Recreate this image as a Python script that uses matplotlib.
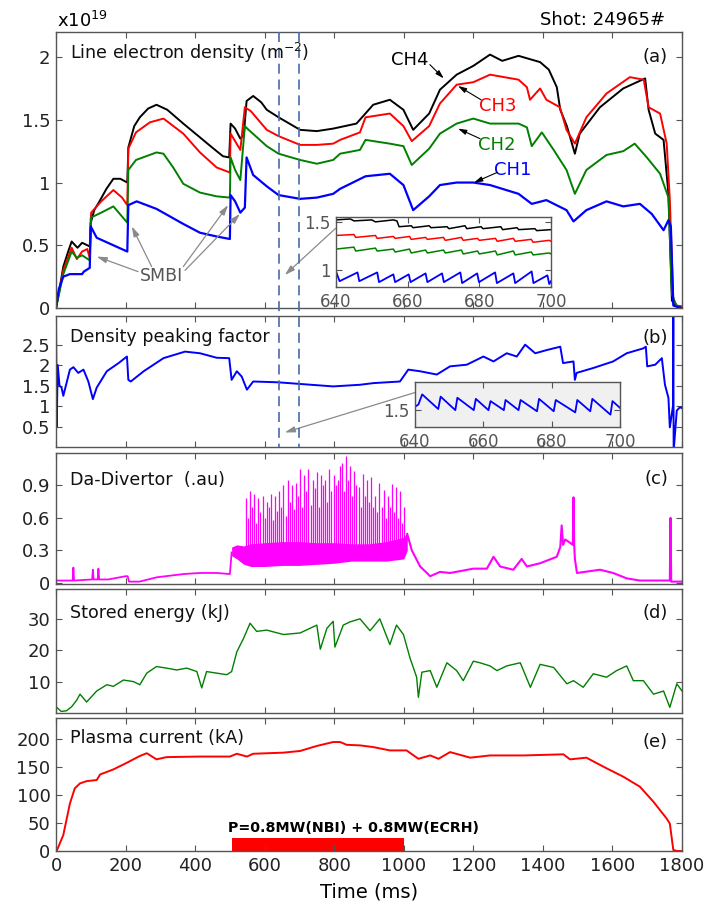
import matplotlib
matplotlib.use("Agg")
import matplotlib.pyplot as plt
from matplotlib.lines import Line2D
from matplotlib.ticker import FuncFormatter
from matplotlib.transforms import blended_transform_factory

plt.rcParams['font.family'] = ['DejaVu Sans']

# ---- data (time in ms) ----
# (a) line electron density, x1e19 m^-2
ch4_t = [0, 10, 21, 35, 45, 55, 62, 75, 90, 97, 100, 110, 125, 145, 165, 185, 205, 208, 225, 241,
         265, 289, 320, 366, 414, 440, 462, 480, 498, 502, 515, 530, 540, 548, 567, 590, 606, 640,
         702, 750, 797, 864, 912, 960, 999, 1027, 1073, 1104, 1152, 1200, 1248, 1283, 1330, 1392,
         1417, 1440, 1450, 1469, 1492, 1506, 1564, 1631, 1694, 1704, 1723, 1747, 1761, 1771, 1780, 1800]
ch4_v = [0, 0.15, 0.33, 0.45, 0.53, 0.5, 0.48, 0.52, 0.5, 0.49, 0.68, 0.78, 0.85, 0.95, 1.03, 1.03, 1.0, 1.28, 1.45, 1.52,
         1.59, 1.62, 1.58, 1.47, 1.36, 1.3, 1.25, 1.21, 1.2, 1.47, 1.43, 1.35, 1.38, 1.65, 1.69, 1.64, 1.58, 1.52,
         1.42, 1.41, 1.43, 1.47, 1.62, 1.66, 1.58, 1.42, 1.55, 1.74, 1.86, 1.93, 2.02, 1.97, 2.01, 1.96,
         1.9, 1.76, 1.58, 1.45, 1.23, 1.39, 1.6, 1.75, 1.83, 1.58, 1.39, 1.34, 0.91, 0.06, 0.02, 0.01]

ch3_t = [0, 21, 45, 60, 75, 90, 97, 101, 130, 165, 190, 205, 208, 230, 270, 309, 366, 414, 462, 500,
         502, 515, 530, 543, 560, 606, 640, 702, 750, 797, 817, 874, 890, 960, 999, 1023, 1073, 1104,
         1152, 1200, 1248, 1330, 1354, 1363, 1392, 1410, 1449, 1468, 1492, 1525, 1583, 1650, 1690,
         1704, 1737, 1756, 1765, 1775, 1785, 1800]
ch3_v = [0, 0.3, 0.48, 0.39, 0.45, 0.47, 0.4, 0.76, 0.85, 0.94, 0.88, 0.82, 1.27, 1.4, 1.48, 1.51, 1.39, 1.24, 1.12, 1.08,
         1.39, 1.33, 1.26, 1.6, 1.57, 1.42, 1.37, 1.3, 1.3, 1.31, 1.34, 1.4, 1.52, 1.55, 1.45, 1.33, 1.45, 1.63,
         1.78, 1.8, 1.86, 1.82, 1.76, 1.66, 1.75, 1.66, 1.6, 1.42, 1.31, 1.52, 1.71, 1.84, 1.82,
         1.6, 1.55, 1.31, 0.86, 0.06, 0.02, 0.01]

ch2_t = [0, 21, 45, 60, 75, 97, 100, 130, 165, 205, 208, 230, 289, 309, 337, 366, 414, 462, 500,
         502, 515, 530, 543, 550, 606, 640, 702, 750, 797, 817, 874, 890, 960, 999, 1023, 1073, 1104,
         1152, 1200, 1248, 1330, 1354, 1368, 1397, 1431, 1468, 1492, 1525, 1583, 1631, 1664, 1699,
         1737, 1761, 1771, 1785, 1800]
ch2_v = [0, 0.27, 0.45, 0.4, 0.42, 0.38, 0.72, 0.76, 0.81, 0.68, 1.1, 1.18, 1.24, 1.23, 1.12, 0.99, 0.92, 0.89, 0.88,
         1.2, 1.1, 1.02, 1.45, 1.43, 1.29, 1.23, 1.18, 1.15, 1.18, 1.23, 1.26, 1.34, 1.31, 1.29, 1.14, 1.27, 1.39,
         1.47, 1.51, 1.47, 1.47, 1.44, 1.29, 1.4, 1.26, 1.1, 0.91, 1.1, 1.22, 1.25, 1.31, 1.2,
         1.07, 0.88, 0.11, 0.01, 0.0]

ch1_t = [0, 8, 21, 40, 75, 80, 97, 100, 117, 165, 205, 208, 232, 289, 366, 414, 462, 500, 502, 515,
         530, 543, 548, 567, 606, 640, 702, 750, 797, 817, 890, 960, 999, 1027, 1073, 1104, 1152, 1200,
         1248, 1330, 1368, 1410, 1468, 1488, 1525, 1583, 1631, 1679, 1713, 1747, 1761, 1768, 1775, 1785, 1800]
ch1_v = [0, 0.15, 0.25, 0.27, 0.27, 0.29, 0.32, 0.65, 0.56, 0.5, 0.45, 0.82, 0.85, 0.79, 0.67, 0.6, 0.57, 0.55, 0.9, 0.85,
         0.76, 0.8, 1.2, 1.06, 0.97, 0.9, 0.87, 0.88, 0.91, 0.95, 1.05, 1.07, 0.98, 0.78, 0.89, 0.98, 1.0, 1.0,
         0.98, 0.91, 0.83, 0.86, 0.78, 0.69, 0.78, 0.85, 0.81, 0.83, 0.75, 0.62, 0.7, 0.65, 0.02, 0.01, 0.0]

# zoom window 640-700 ms
zoom_win = [640, 700]
ins4_t = [640, 644, 645, 650, 651, 656, 657, 657.6, 661, 661.5, 666, 666.5, 671, 671.5, 676, 676.5,
          680.5, 681, 686, 686.5, 690.5, 691, 695.5, 696, 700]
ins4_v = [1.52, 1.53, 1.51, 1.52, 1.50, 1.52, 1.51, 1.45, 1.46, 1.44, 1.46, 1.44, 1.45, 1.43, 1.46, 1.43,
          1.45, 1.43, 1.45, 1.42, 1.44, 1.42, 1.43, 1.41, 1.42]
ins32_t = [640, 645, 645.5, 651, 651.5, 656, 656.5, 660.5, 661, 665, 665.5, 670, 670.5, 675, 675.5,
           679.5, 680, 684.5, 685, 689.5, 690, 694.5, 695, 699.5, 700]
ins3_v = [1.36, 1.37, 1.34, 1.36, 1.33, 1.35, 1.33, 1.35, 1.32, 1.34, 1.32, 1.34, 1.31, 1.34, 1.31,
          1.33, 1.31, 1.33, 1.30, 1.33, 1.30, 1.32, 1.29, 1.31, 1.30]
ins2_v = [1.22, 1.24, 1.20, 1.23, 1.20, 1.22, 1.19, 1.22, 1.18, 1.21, 1.18, 1.21, 1.18, 1.21, 1.17,
          1.20, 1.17, 1.20, 1.16, 1.20, 1.16, 1.19, 1.16, 1.18, 1.17]
ins1_t = [640, 641, 646, 646.5, 651.5, 652, 656, 656.5, 660.3, 660.8, 665, 665.5, 669.6, 670.1,
          674.7, 675.2, 679.4, 679.9, 684.4, 684.9, 689.5, 690, 694.6, 695.1, 699, 699.5, 700]
ins1_v = [0.99, 0.89, 0.98, 0.89, 0.98, 0.88, 0.96, 0.88, 0.96, 0.88, 0.97, 0.88, 0.97, 0.88,
          0.98, 0.87, 0.97, 0.88, 0.98, 0.87, 0.97, 0.87, 0.99, 0.87, 0.95, 0.86, 0.89]

# (b) density peaking factor
dpf_t = [0, 2, 5, 10, 16, 21, 40, 50, 64, 79, 93, 106, 117, 146, 180, 204, 208, 215, 252, 309, 371,
         414, 462, 498, 505, 520, 534, 549, 567, 639, 702, 797, 874, 912, 989, 1013, 1047, 1095, 1133,
         1181, 1229, 1258, 1296, 1325, 1349, 1378, 1412, 1450, 1458, 1488, 1492, 1497, 1545, 1602,
         1641, 1689, 1696, 1700, 1723, 1742, 1751, 1761, 1765, 1774, 1775, 1776, 1785, 1794, 1800]
dpf_v = [3.3, 0.5, 2.0, 1.5, 1.45, 1.25, 1.89, 1.95, 1.81, 1.89, 1.6, 1.17, 1.45, 1.85, 2.05, 2.21, 1.64, 1.6, 1.85, 2.17, 2.33,
         2.29, 2.18, 2.17, 1.64, 1.85, 1.72, 1.4, 1.6, 1.58, 1.54, 1.48, 1.52, 1.56, 1.6, 1.89, 1.85, 1.77, 1.97,
         2.01, 2.21, 2.09, 2.29, 2.21, 2.5, 2.29, 2.37, 2.45, 2.05, 2.09, 1.64, 1.81, 1.93, 2.09,
         2.29, 2.41, 2.45, 1.97, 2.01, 2.17, 1.52, 1.2, 0.48, 1.0, 3.3, -0.1, 0.89, 0.97, 0.95]
insb_t = [640, 641, 642.1, 646.8, 647.5, 651.8, 652.4, 657.2, 657.8, 661.5, 662.1, 666, 666.5, 670.3,
          670.9, 675.7, 676.3, 680.6, 681.2, 686.9, 687.5, 691.3, 691.9, 697.2, 697.8, 700]
insb_v = [1.53, 1.55, 1.64, 1.51, 1.62, 1.50, 1.61, 1.50, 1.60, 1.50, 1.58, 1.50, 1.59, 1.50,
          1.59, 1.49, 1.60, 1.49, 1.59, 1.48, 1.59, 1.49, 1.60, 1.46, 1.58, 1.52]

# (c) D-alpha divertor
da1_t = [0, 48, 50, 52, 104, 106, 108, 120, 122, 124, 150, 200, 206, 210, 240, 290, 366, 414, 462, 500, 505]
da1_v = [0.02, 0.02, 0.14, 0.02, 0.03, 0.12, 0.03, 0.03, 0.13, 0.03, 0.03, 0.06, 0.06, 0.01, 0.01, 0.05, 0.08, 0.09, 0.09, 0.08, 0.28]
band_t = [505, 520, 540, 560, 600, 650, 700, 750, 800, 850, 900, 950, 1000, 1010]
band_lo = [0.25, 0.22, 0.17, 0.15, 0.15, 0.16, 0.16, 0.17, 0.18, 0.2, 0.2, 0.2, 0.22, 0.3]
band_hi = [0.33, 0.35, 0.34, 0.36, 0.37, 0.38, 0.38, 0.37, 0.37, 0.36, 0.36, 0.38, 0.42, 0.47]
elm_t = [547, 553, 558, 564, 570, 576, 582, 588, 594, 600,
         606, 612, 618, 624, 630, 636, 642, 648, 654, 660,
         666, 672, 678, 684, 690, 696, 702, 708, 714, 720,
         726, 732, 738, 744, 750, 756, 762, 768, 774, 780,
         786, 792, 798, 804, 810, 816, 822, 828, 834, 840,
         846, 852, 858, 864, 870, 876, 882, 888, 894, 900,
         906, 912, 918, 924, 930, 936, 942, 948, 954, 960,
         966, 972, 978, 984, 990, 996, 1002]
elm_h = [0.78, 0.6, 0.85, 0.7, 0.82, 0.55, 0.78, 0.65, 0.8, 0.6,
         0.75, 0.7, 0.82, 0.58, 0.8, 0.66, 0.85, 0.7, 0.9, 0.62,
         0.95, 0.75, 0.9, 0.68, 0.92, 0.8, 1.05, 0.7, 1.0, 0.85,
         1.05, 0.72, 0.95, 0.88, 1.02, 0.7, 1.0, 0.9, 0.95, 0.75,
         1.05, 0.85, 1.0, 0.9, 0.95, 1.08, 1.11, 0.85, 1.17, 0.95,
         1.08, 0.8, 1.03, 0.9, 0.89, 0.7, 1.01, 0.8, 0.95, 0.75,
         0.98, 0.7, 0.8, 0.65, 0.92, 0.7, 0.86, 0.6, 0.8, 0.7,
         0.91, 0.65, 0.89, 0.6, 0.85, 0.55, 0.7]
da2_t = [1010, 1023, 1047, 1076, 1104, 1133, 1200, 1239, 1258, 1277, 1315, 1339, 1354, 1392, 1440, 1450,
         1454, 1458, 1464, 1478, 1486, 1488, 1490, 1492, 1498, 1564, 1602, 1641, 1679, 1765, 1767, 1769, 1800]
da2_v = [0.45, 0.3, 0.15, 0.06, 0.1, 0.09, 0.13, 0.13, 0.24, 0.15, 0.12, 0.22, 0.15, 0.18, 0.24, 0.33,
         0.53, 0.35, 0.4, 0.37, 0.35, 0.79, 0.35, 0.22, 0.09, 0.12, 0.09, 0.04, 0.02, 0.02, 0.6, 0.01, 0.01]

# (d) stored energy, kJ
we_t = [0, 2, 15, 30, 45, 59, 69, 88, 117, 146, 165, 194, 223, 241, 261, 289, 318, 347, 376, 405, 419,
        433, 462, 491, 505, 520, 539, 558, 577, 606, 654, 702, 750, 760, 779, 797, 802, 826, 845, 874,
        903, 931, 960, 979, 999, 1018, 1037, 1042, 1052, 1076, 1095, 1124, 1152, 1171, 1200, 1219,
        1248, 1268, 1296, 1335, 1364, 1392, 1431, 1469, 1488, 1516, 1545, 1583, 1612, 1641, 1660,
        1689, 1718, 1747, 1765, 1785, 1800]
we_v = [1, 1.8, 0.5, 0.7, 2, 4, 6, 3.5, 7, 9, 8.5, 10.5, 10, 9, 12.7, 14.8, 14.3, 13.7, 14.3, 13.2, 8,
        13.2, 12.7, 12.2, 13.2, 19.5, 23.7, 28.6, 26, 26.4, 25, 25.5, 28, 20.3, 27, 29.2, 21, 28, 29, 30,
        26.2, 30, 21.8, 28, 25, 17.5, 11.4, 5, 13, 13.5, 8.2, 16, 13.5, 10.3, 16.5, 16,
        15, 13.5, 15, 16, 8.2, 15.5, 14.5, 9.3, 10.3, 8.2, 12.5, 11.4, 13.5, 15, 10.3,
        10.3, 6, 7, 1.8, 9.3, 7]

# (e) plasma current, kA
ip_t = [0, 2, 21, 40, 54, 69, 88, 117, 127, 165, 204, 241, 261, 289, 318, 414, 500, 520, 549, 567, 654,
        702, 750, 797, 817, 836, 874, 912, 960, 1008, 1042, 1076, 1100, 1133, 1191, 1248, 1344, 1459,
        1478, 1525, 1583, 1631, 1679, 1718, 1756, 1765, 1775, 1785, 1800]
ip_v = [0, 0, 28.6, 85, 112, 121, 125, 127, 137, 146, 158, 170, 175, 164, 168, 169, 169, 174, 169, 174, 176,
        179, 188, 195, 195, 190, 189, 186, 180, 180, 165, 171, 165, 177, 167, 171, 171, 173,
        164, 167, 148, 133, 115, 88, 58, 49, 2, 0, 0]
heat_on, heat_off, heat_h = 505, 1000, 24

BLUE, RED, GREEN, BLACK, MAG = "#0000ff", "#ff0000", "#008000", "#000000", "#ff00ff"
FRAME = "#555555"

W, H = 712, 909
fig = plt.figure(figsize=(W / 100, H / 100), dpi=100)


def rect(x0, y0, x1, y1):
	return [x0 / W, 1 - y1 / H, (x1 - x0) / W, (y1 - y0) / H]


def fxy(px, py):
	return px / W, 1 - py / H


fmt = FuncFormatter(lambda v, p: "{:g}".format(v))


def style(ax, fs=13, col="#222222"):
	for s in ax.spines.values():
		s.set_color(FRAME)
		s.set_linewidth(1.0)
	ax.tick_params(direction="in", top=True, right=True, length=4, width=0.8,
			color=FRAME, labelsize=fs, labelcolor=col, pad=4)
	ax.yaxis.set_major_formatter(fmt)


ax_a = fig.add_axes(rect(56, 32, 682, 308))
ax_b = fig.add_axes(rect(56, 316, 682, 447))
ax_c = fig.add_axes(rect(56, 453, 682, 584))
ax_d = fig.add_axes(rect(56, 589, 682, 713))
ax_e = fig.add_axes(rect(56, 718, 682, 851))

for ax in [ax_a, ax_b, ax_c, ax_d, ax_e]:
	style(ax)
	ax.set_xlim(0, 1800)
	ax.set_xticks(range(0, 1801, 200))
	if ax is not ax_e:
		ax.tick_params(labelbottom=False)

# (a)
ax_a.plot(ch4_t, ch4_v, color=BLACK, lw=1.4)
ax_a.plot(ch3_t, ch3_v, color=RED, lw=1.4)
ax_a.plot(ch2_t, ch2_v, color=GREEN, lw=1.4)
ax_a.plot(ch1_t, ch1_v, color=BLUE, lw=1.6)
ax_a.set_ylim(0, 2.2)
ax_a.set_yticks([0, 0.5, 1, 1.5, 2])

arr = dict(arrowstyle="-|>,head_length=0.6,head_width=0.18", color="#8a8a8a", lw=0.9, shrinkA=0, shrinkB=0)
for tail, head in [((236, 0.29), (117, 0.41)), ((275, 0.33), (218, 0.65)),
			((366, 0.33), (495, 0.82)), ((371, 0.30), (529, 0.75))]:
	ax_a.annotate("", xy=head, xytext=tail, arrowprops=arr)
ax_a.text(302, 0.255, "SMBI", color="#555555", fontsize=12.5, ha="center", va="center")

carr = dict(arrowstyle="-|>,head_length=0.5,head_width=0.15", color="black", lw=0.8, shrinkA=0, shrinkB=0)
for name, col, pos, tail, head in [("CH4", BLACK, (1018, 1.98), (1075, 1.94), (1115, 1.83)),
				("CH3", RED, (1271, 1.61), (1222, 1.66), (1156, 1.77)),
				("CH2", GREEN, (1268, 1.30), (1219, 1.35), (1156, 1.43)),
				("CH1", BLUE, (1314, 1.10), (1268, 1.08), (1202, 1.00))]:
	ax_a.text(pos[0], pos[1], name, color=col, fontsize=13, ha="center", va="center")
	ax_a.annotate("", xy=head, xytext=tail, arrowprops=carr)

ax_a.annotate("", xy=(658, 0.263), xytext=(804, 0.635), arrowprops=arr)

# (b)
ax_b.plot(dpf_t, dpf_v, color=BLUE, lw=1.4)
ax_b.set_ylim(0, 3.2)
ax_b.set_yticks([0.5, 1, 1.5, 2, 2.5])
ax_b.annotate("", xy=(658, 0.355), xytext=(1032, 1.33), arrowprops=arr)

# (c)
ax_c.plot(da1_t, da1_v, color=MAG, lw=1.3)
ax_c.fill_between(band_t, band_lo, band_hi, color=MAG, lw=0)
ax_c.vlines(elm_t, 0.25, elm_h, color=MAG, lw=0.9)
ax_c.plot(da2_t, da2_v, color=MAG, lw=1.5)
ax_c.set_ylim(-0.012, 1.2)
ax_c.set_yticks([0, 0.3, 0.6, 0.9])

# (d)
ax_d.plot(we_t, we_v, color=GREEN, lw=1.0)
ax_d.set_ylim(0, 39.5)
ax_d.set_yticks([10, 20, 30])

# (e)
ax_e.plot(ip_t, ip_v, color=RED, lw=1.4)
ax_e.bar(heat_on, heat_h, width=heat_off - heat_on, align="edge", color=RED, lw=0)
ax_e.text(heat_on - 10, 41.6, "P=0.8MW(NBI) + 0.8MW(ECRH)", fontsize=10.3,
		fontweight="bold", ha="left", va="center")
ax_e.set_ylim(0, 238)
ax_e.set_yticks([0, 50, 100, 150, 200])

# dashed zoom window across (a) and (b)
tr = blended_transform_factory(ax_a.transData, fig.transFigure)
for tw in zoom_win:
	fig.add_artist(Line2D([tw, tw], [fxy(0, 32)[1], fxy(0, 447)[1]], transform=tr,
				color="#4a6aa8", lw=1.2, ls=(0, (6, 3.5))))

# insets
ins_a = fig.add_axes(rect(336, 217, 551, 287))
style(ins_a, fs=12, col="#555555")
ins_a.plot(ins4_t, ins4_v, color=BLACK, lw=1.1)
ins_a.plot(ins32_t, ins3_v, color=RED, lw=1.1)
ins_a.plot(ins32_t, ins2_v, color=GREEN, lw=1.1)
ins_a.plot(ins1_t, ins1_v, color=BLUE, lw=1.3)
ins_a.set_xlim(zoom_win)
ins_a.set_ylim(0.83, 1.55)
ins_a.set_xticks([640, 660, 680, 700])
ins_a.set_yticks([1, 1.5])

ins_b = fig.add_axes(rect(415, 382, 620, 427))
style(ins_b, fs=12, col="#555555")
ins_b.set_facecolor("#f0f0f0")
ins_b.plot(insb_t, insb_v, color=BLUE, lw=1.3)
ins_b.set_xlim(zoom_win)
ins_b.set_ylim(1.35, 1.75)
ins_b.set_xticks([640, 660, 680, 700])
ins_b.set_yticks([1.5])

# labels
fig.text(*fxy(57, 27), r"x10$^{19}$", fontsize=13, va="baseline", ha="left")
fig.text(*fxy(665, 25), "Shot: 24965#", fontsize=13, va="baseline", ha="right")
for lab, y in [(r"Line electron density (m$^{-2}$)", 53), ("Density peaking factor", 337),
		("Da-Divertor  (.au)", 480), ("Stored energy (kJ)", 613), ("Plasma current (kA)", 738)]:
	fig.text(*fxy(70, y), lab, fontsize=12.6, va="center", ha="left", color="#111111")
for lab, y in [("(a)", 57), ("(b)", 338), ("(c)", 479), ("(d)", 613), ("(e)", 742)]:
	fig.text(*fxy(668, y), lab, fontsize=13, va="center", ha="right", color="#111111")
fig.text(*fxy(369, 892), "Time (ms)", fontsize=14, va="center", ha="center")

fig.savefig("out.png", dpi=100)
